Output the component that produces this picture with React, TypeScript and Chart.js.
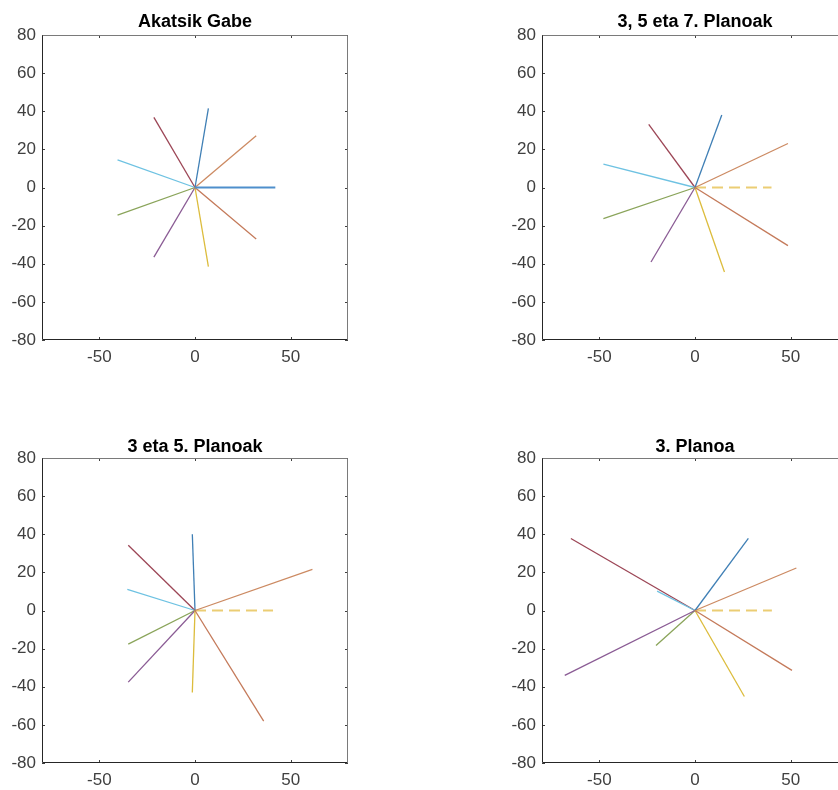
import React, { useEffect, useRef } from "react";
import { Chart, registerables } from "chart.js";
Chart.register(...registerables);

// ---------- data ----------
const TITLES = ["Akatsik Gabe", "3, 5 eta 7. Planoak", "3 eta 5. Planoak", "3. Planoa"];
const X_TICKS = [-50, 0, 50];
const Y_TICKS = [-80, -60, -40, -20, 0, 20, 40, 60, 80];
const AXIS_MIN = -80;
const AXIS_MAX = 80;

// phasor end points (vectors start at the origin)
// Akatsik Gabe: vectors v1..v9
const gabeX = [42, 32, 7, -21.5, -40.5, -40.5, -21.5, 7, 32];
const gabeY = [0, -27, -41.5, -36.5, -14.5, 14.5, 36.8, 41.5, 27.2];
// 3, 5 eta 7. Planoak: vectors v2..v9
const p357X = [48.6, 15.4, -23, -47.9, -47.9, -24.2, 14, 48.6];
const p357Y = [-30.5, -44.3, -39.1, -16.3, 12.3, 33.1, 38, 23.1];
// 3 eta 5. Planoak: vectors v2..v9
const p35X = [35.9, -1.4, -34.9, -34.9, -35.4, -34.9, -1.4, 61.4];
const p35Y = [-58, -43, -37.6, -17.6, 11.1, 34.2, 40, 21.6];
// 3. Planoa: vectors v2..v9
const p3X = [50.7, 25.8, -68.1, -20.4, -19.8, -64.9, 27.9, 53];
const p3Y = [-31.4, -45.1, -34, -18.4, 10.2, 37.8, 37.8, 22.3];
// dashed reference length on the x axis (none for first panel)
const REF_LEN = [null, 40, 40.8, 40.2];

const VEC_COLORS = ["#4f8fcc", "#c47a5a", "#dcbc3c", "#8a5b94", "#8aa45a", "#6ec2e2", "#9c4656", "#3f7fb5", "#cc8a62"];
const REF_COLOR = "#ebcd74";

const PANEL_X = [gabeX, p357X, p35X, p3X];
const PANEL_Y = [gabeY, p357Y, p35Y, p3Y];

// ---------- layout ----------
const PANELS = [
  { left: 0, top: 0, width: 419, height: 395, box: { l: 42, r: 348, t: 35, b: 340 }, titleY: 27 },
  { left: 419, top: 0, width: 440, height: 395, box: { l: 123, r: 429, t: 35, b: 340 }, titleY: 27 },
  { left: 0, top: 395, width: 419, height: 395, box: { l: 42, r: 348, t: 63, b: 368 }, titleY: 57 },
  { left: 419, top: 395, width: 440, height: 395, box: { l: 123, r: 429, t: 63, b: 368 }, titleY: 57 },
];

const FONT = "'Liberation Sans', Arial, Helvetica, sans-serif";

function Panel({ idx }: { idx: number }) {
  const ref = useRef<HTMLCanvasElement | null>(null);
  const p = PANELS[idx];
  useEffect(() => {
    if (!ref.current) return;
    const xs = PANEL_X[idx];
    const ys = PANEL_Y[idx];
    const colors = xs.length === 9 ? VEC_COLORS : VEC_COLORS.slice(1);
    const datasets: any[] = xs.map((x, i) => ({
      data: [
        { x: 0, y: 0 },
        { x, y: ys[i] },
      ],
      borderColor: colors[i],
      backgroundColor: colors[i],
      borderWidth: ys[i] === 0 ? 2 : 1.3,
      showLine: true,
      pointRadius: 0,
      fill: false,
    }));
    const refLen = REF_LEN[idx];
    if (refLen != null) {
      datasets.push({
        data: [
          { x: 0, y: 0 },
          { x: refLen, y: 0 },
        ],
        borderColor: REF_COLOR,
        backgroundColor: REF_COLOR,
        borderWidth: 2,
        borderDash: [11, 6],
        showLine: true,
        pointRadius: 0,
        fill: false,
      });
    }
    const title = TITLES[idx];
    const matlabAxes = {
      id: "matlabAxes",
      afterDraw(chart: any) {
        const { ctx, chartArea, scales } = chart;
        const { left, right, top, bottom } = chartArea;
        ctx.save();
        const tl = 3;
        ctx.lineWidth = 1;
        // ticks
        ctx.strokeStyle = "#404040";
        ctx.beginPath();
        X_TICKS.forEach((v) => {
          const px = Math.round(scales.x.getPixelForValue(v)) + 0.5;
          ctx.moveTo(px, bottom);
          ctx.lineTo(px, bottom - tl);
          ctx.moveTo(px, top);
          ctx.lineTo(px, top + tl);
        });
        Y_TICKS.forEach((v) => {
          const py = Math.round(scales.y.getPixelForValue(v)) + 0.5;
          ctx.moveTo(left, py);
          ctx.lineTo(left + tl, py);
          ctx.moveTo(right, py);
          ctx.lineTo(right - tl, py);
        });
        ctx.stroke();
        // box
        const L = Math.round(left) + 0.5;
        const R = Math.round(right) - 0.5;
        const T = Math.round(top) + 0.5;
        const B = Math.round(bottom) - 0.5;
        ctx.strokeStyle = "#7a7a7a";
        ctx.beginPath();
        ctx.moveTo(L, T);
        ctx.lineTo(R, T);
        ctx.lineTo(R, B);
        ctx.stroke();
        ctx.strokeStyle = "#262626";
        ctx.beginPath();
        ctx.moveTo(L, T);
        ctx.lineTo(L, B);
        ctx.lineTo(R, B);
        ctx.stroke();
        // title
        ctx.fillStyle = "#000";
        ctx.font = "bold 18px " + FONT;
        ctx.textAlign = "center";
        ctx.textBaseline = "alphabetic";
        ctx.fillText(title, (left + right) / 2, p.titleY);
        ctx.restore();
      },
    };
    const tickFont = { family: FONT, size: 17 };
    const chart = new Chart(ref.current, {
      type: "scatter",
      data: { datasets },
      options: {
        responsive: false,
        animation: false,
        devicePixelRatio: 1,
        layout: {
          padding: {
            left: p.box.l - 40,
            top: p.box.t,
            right: p.width - p.box.r,
            bottom: p.height - p.box.b - 30,
          },
        },
        plugins: {
          legend: { display: false },
          title: { display: false },
          tooltip: { enabled: false },
        },
        scales: {
          x: {
            type: "linear",
            min: AXIS_MIN,
            max: AXIS_MAX,
            afterBuildTicks: (s: any) => {
              s.ticks = X_TICKS.map((v) => ({ value: v }));
            },
            afterFit: (s: any) => {
              s.height = 30;
            },
            grid: { display: false, drawTicks: false },
            border: { display: false },
            ticks: { padding: 7, color: "#404040", font: tickFont, maxRotation: 0, autoSkip: false },
          },
          y: {
            type: "linear",
            min: AXIS_MIN,
            max: AXIS_MAX,
            afterBuildTicks: (s: any) => {
              s.ticks = Y_TICKS.map((v) => ({ value: v }));
            },
            afterFit: (s: any) => {
              s.width = 40;
            },
            grid: { display: false, drawTicks: false },
            border: { display: false },
            ticks: { padding: 6, color: "#404040", font: tickFont, autoSkip: false },
          },
        },
      } as any,
      plugins: [matlabAxes],
    });
    return () => chart.destroy();
  }, [idx]);
  return (
    <canvas
      ref={ref}
      width={p.width}
      height={p.height}
      style={{ position: "absolute", left: p.left, top: p.top, width: p.width, height: p.height }}
    />
  );
}

export default function App() {
  return (
    <div
      style={{
        position: "absolute",
        left: 0,
        top: 0,
        width: 838,
        height: 790,
        overflow: "hidden",
        background: "#fff",
      }}
    >
      {PANELS.map((_, i) => (
        <Panel key={i} idx={i} />
      ))}
    </div>
  );
}
